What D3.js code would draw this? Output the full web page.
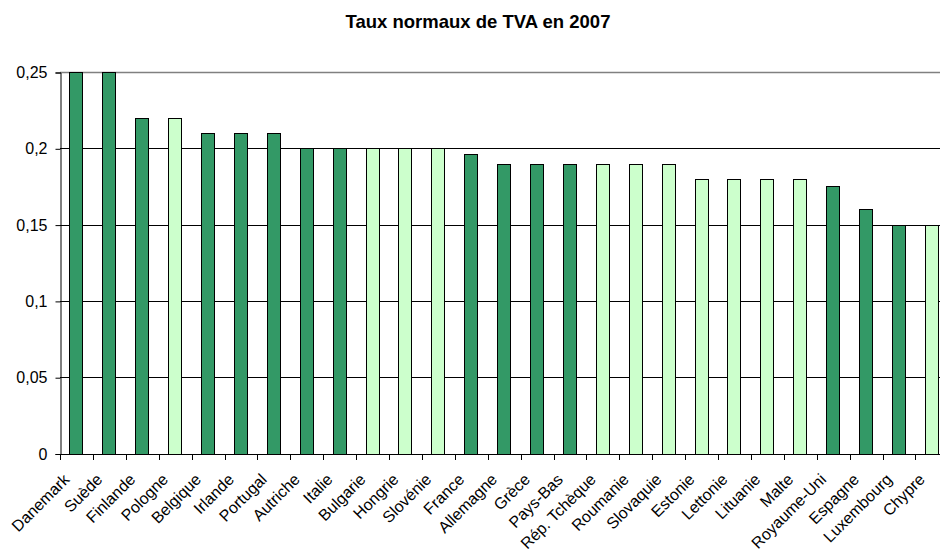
<!DOCTYPE html>
<html>
<head>
<meta charset="utf-8" />
<title>Taux normaux de TVA en 2007</title>
<style type="text/css">
body{
	margin:0;
	background:#fff;
	font-family:"Liberation Sans", Arial, sans-serif;
}
</style>
<script src="https://d3js.org/d3.v7.min.js"></script>
</head>
<body>
<div id="chart"></div>
<script>
	// données
	var pays = ["Danemark","Suède","Finlande","Pologne","Belgique","Irlande","Portugal","Autriche","Italie",
		"Bulgarie","Hongrie","Slovénie","France","Allemagne","Grèce","Pays-Bas","Rép. Tchèque","Roumanie",
		"Slovaquie","Estonie","Lettonie","Lituanie","Malte","Royaume-Uni","Espagne","Luxembourg","Chypre"];
	var taux = [0.25,0.25,0.22,0.22,0.21,0.21,0.21,0.20,0.20,
		0.20,0.20,0.20,0.196,0.19,0.19,0.19,0.19,0.19,
		0.19,0.18,0.18,0.18,0.18,0.175,0.16,0.15,0.15];
	// 1 = UE15, 0 = nouveaux membres
	var ue15 = [1,1,1,0,1,1,1,1,1,
		0,0,0,1,1,1,1,0,0,
		0,0,0,0,0,1,1,1,0];
	var ticksY = [0,0.05,0.1,0.15,0.2,0.25];

	var width = 940;
	var height = 552;
	var xGauche = 60, xDroite = 948.3, yHaut = 72, yBas = 453.5;

	var SVG = d3.select("#chart")
				.append("svg")
				.attr("width",width)
				.attr("height",height);

	var x = d3.scaleBand()
		.domain(pays)
		.range([xGauche,xDroite])
		.paddingInner(0.575)
		.paddingOuter(0.2875);

	var y = d3.scaleLinear()
		.domain([0,0.25])
		.range([yBas,yHaut]);

	var fmt = function(d){ return String(d).replace(".",","); };

	//titre
	SVG.append("text")
		.attr("x",478)
		.attr("y",28)
		.attr("text-anchor","middle")
		.attr("font-size",18.5)
		.attr("font-weight","bold")
		.text("Taux normaux de TVA en 2007");

	//quadrillage
	SVG.append("g")
		.selectAll("line")
		.data(ticksY.filter(function(d){ return d>0 && d<0.25; }))
		.enter().append("line")
		.attr("x1",xGauche)
		.attr("x2",xDroite)
		.attr("y1",function(d){ return Math.round(y(d))+0.5; })
		.attr("y2",function(d){ return Math.round(y(d))+0.5; })
		.attr("stroke","#000")
		.attr("stroke-width",1);

	//bordure zone de traçage
	SVG.append("line")
		.attr("x1",xGauche).attr("x2",xDroite)
		.attr("y1",Math.round(y(0.25))+0.5).attr("y2",Math.round(y(0.25))+0.5)
		.attr("stroke","#808080")
		.attr("stroke-width",1.5);

	//barres
	SVG.append("g")
		.selectAll("rect")
		.data(pays)
		.enter().append("rect")
		.attr("x",function(d){ return Math.round(x(d))+0.5; })
		.attr("y",function(d,i){ return Math.round(y(taux[i]))+0.5; })
		.attr("width",Math.round(x.bandwidth())-1)
		.attr("height",function(d,i){ return Math.round(y(0))-Math.round(y(taux[i])); })
		.attr("fill",function(d,i){ return ue15[i] ? "#339966" : "#CCFFCC"; })
		.attr("stroke","#000")
		.attr("stroke-width",1);

	//axe Y
	var axeY = d3.axisLeft(y)
		.tickValues(ticksY)
		.tickSize(5)
		.tickPadding(8)
		.tickFormat(fmt);
	var gY = SVG.append("g")
		.attr("transform","translate("+(xGauche+0.5)+",0.5)")
		.call(axeY);
	gY.selectAll("text").attr("font-size",16).attr("font-family","Liberation Sans, Arial").attr("fill","#000");
	gY.selectAll("line").attr("stroke","#000");
	gY.select(".domain").attr("stroke","#000");

	//axe X
	var pas = x.step();
	var gX = SVG.append("g");
	gX.append("line")
		.attr("x1",xGauche).attr("x2",xDroite)
		.attr("y1",Math.round(yBas)+0.5).attr("y2",Math.round(yBas)+0.5)
		.attr("stroke","#000");
	gX.selectAll("line.tick")
		.data(d3.range(pays.length+1))
		.enter().append("line")
		.attr("class","tick")
		.attr("x1",function(k){ return Math.round(xGauche+k*pas)+0.5; })
		.attr("x2",function(k){ return Math.round(xGauche+k*pas)+0.5; })
		.attr("y1",Math.round(yBas)+0.5)
		.attr("y2",Math.round(yBas)+6)
		.attr("stroke","#000");

	//étiquettes
	gX.selectAll("text")
		.data(pays)
		.enter().append("text")
		.attr("transform",function(d){
			var cx = x(d)+x.bandwidth()/2-6;
			return "translate("+cx+","+(yBas+27)+") rotate(-45)";
		})
		.attr("text-anchor","end")
		.attr("font-size",16)
		.text(function(d){ return d; });
</script>
</body>
</html>
